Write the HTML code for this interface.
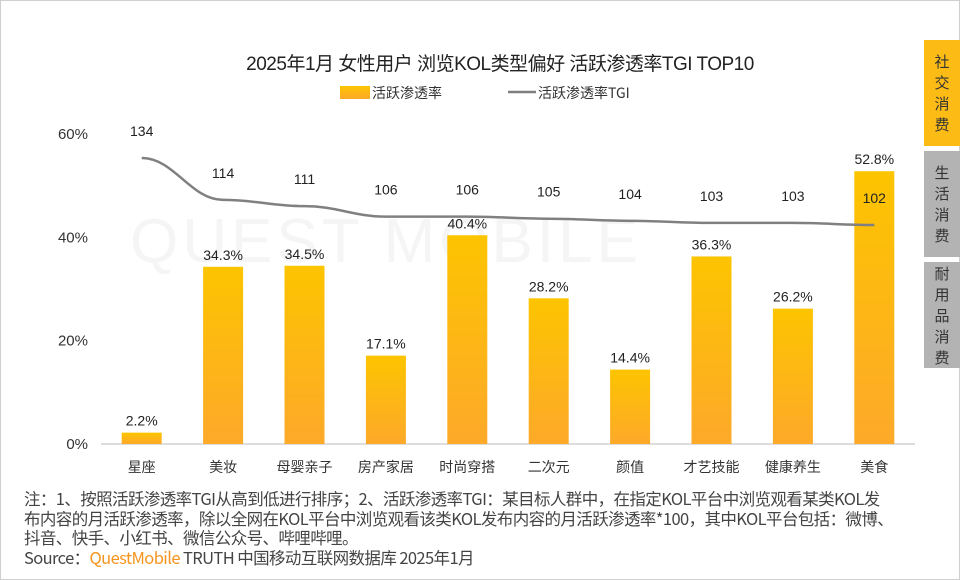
<!DOCTYPE html>
<html><head><meta charset="utf-8"><style>
body{margin:0;width:960px;height:580px;background:#fff;overflow:hidden;font-family:"Liberation Sans","Noto Sans CJK SC",sans-serif;}
#frame{position:absolute;left:0;top:0;width:958px;height:578px;border:1px solid #cfcfcf;}
.tab{position:absolute;left:924px;width:36px;color:#333;font-size:15px;line-height:21px;text-align:center;display:flex;align-items:center;justify-content:center;font-family:"Noto Sans CJK SC",sans-serif;}
#notes{position:absolute;left:24px;top:489px;width:910px;font-size:16.5px;line-height:19.5px;color:#444;font-family:"Noto Sans CJK SC",sans-serif;letter-spacing:-0.6px;white-space:nowrap;}
</style></head><body>
<div id="frame"></div>
<div class="tab" style="top:40px;height:106px;background:#fdbb16">社<br>交<br>消<br>费</div>
<div class="tab" style="top:151px;height:106px;background:#b3b3b3">生<br>活<br>消<br>费</div>
<div class="tab" style="top:262px;height:106px;background:#b3b3b3">耐<br>用<br>品<br>消<br>费</div>
<svg id="chart" width="960" height="580" style="position:absolute;left:0;top:0">
<defs><linearGradient id="g" x1="0" y1="0" x2="0" y2="1"><stop offset="0" stop-color="#fdc400"/><stop offset="1" stop-color="#fda92a"/></linearGradient></defs>
<text x="130" y="262" font-size="62" fill="#f5f5f5" font-family="Liberation Sans" letter-spacing="4">QUEST MOBILE</text>
<text x="500" y="70" text-anchor="middle" font-size="19" fill="#222" font-family="Liberation Sans,Noto Sans CJK SC,sans-serif" letter-spacing="-0.5">2025年1月 女性用户 浏览KOL类型偏好 活跃渗透率TGI TOP10</text>
<rect x="340" y="86" width="30" height="13" fill="url(#g)"/>
<text x="372" y="98" font-size="14" fill="#333" font-family="Noto Sans CJK SC,sans-serif">活跃渗透率</text>
<line x1="508" y1="92" x2="536" y2="92" stroke="#7f7f7f" stroke-width="2.5"/>
<text x="538" y="98" font-size="14" fill="#333" font-family="Noto Sans CJK SC,sans-serif">活跃渗透率TGI</text>
<g id="axes"></g><g id="bars"></g><g id="line"></g>
</svg>
<div id="notes">注：1、按照活跃渗透率TGI从高到低进行排序；2、活跃渗透率TGI：某目标人群中，在指定KOL平台中浏览观看某类KOL发<br>布内容的月活跃渗透率，除以全网在KOL平台中浏览观看该类KOL发布内容的月活跃渗透率*100，其中KOL平台包括：微博、<br>抖音、快手、小红书、微信公众号、哔哩哔哩。<br><span>Source：<span style="color:#f7941d">QuestMobile</span> TRUTH 中国移动互联网数据库 2025年1月</span></div>
<script>
const categories=["星座","美妆","母婴亲子","房产家居","时尚穿搭","二次元","颜值","才艺技能","健康养生","美食"];
const penetration=[2.2,34.3,34.5,17.1,40.4,28.2,14.4,36.3,26.2,52.8];
const tgi=[134,114,111,106,106,105,104,103,103,102];
const yTicks=[0,20,40,60];
const NS="http://www.w3.org/2000/svg";
const x0=101,x1=915,step=(x1-x0)/categories.length,bw=40;
const yS=v=>444-v*(310/60);
const yT=v=>158+(134-v)*2.094;
const xC=i=>x0+step*(i+0.5);
function mk(t,a,p,txt){const e=document.createElementNS(NS,t);for(const k in a)e.setAttribute(k,a[k]);if(txt!==undefined)e.textContent=txt;document.getElementById(p).appendChild(e);return e;}
const ax=mk("line",{x1:x0,y1:444,x2:x1,y2:444,stroke:"#bbb"},"axes");


yTicks.forEach(v=>{const t=mk("text",{x:88,y:yS(v)+5,"text-anchor":"end","font-size":15,fill:"#333","font-family":"Liberation Sans"},"axes",v+"%");

});
categories.forEach((c,i)=>{
const t=mk("text",{x:xC(i),y:472,"text-anchor":"middle","font-size":14,fill:"#333","font-family":"Noto Sans CJK SC,sans-serif"},"axes",c);


const v=penetration[i];
const r=mk("rect",{x:xC(i)-bw/2,y:yS(v),width:bw,height:444-yS(v),fill:"url(#g)"},"bars");


const l=mk("text",{x:xC(i),y:yS(v)-7,"text-anchor":"middle","font-size":14,fill:"#222","font-family":"Liberation Sans"},"bars",v.toFixed(1)+"%");


});
let d="";
tgi.forEach((v,i)=>{const x=xC(i),y=yT(v);
if(i===0)d+=`M${x},${y}`;else{const px=xC(i-1),py=yT(tgi[i-1]);d+=` C${px+step*0.4},${py} ${x-step*0.4},${y} ${x},${y}`;}
const l=mk("text",{x:x,y:y-22,"text-anchor":"middle","font-size":14,fill:"#222","font-family":"Liberation Sans"},"line",v);

});
const p=mk("path",{d:d,fill:"none",stroke:"#808080","stroke-width":2.5},"line");


</script>
</body></html>
